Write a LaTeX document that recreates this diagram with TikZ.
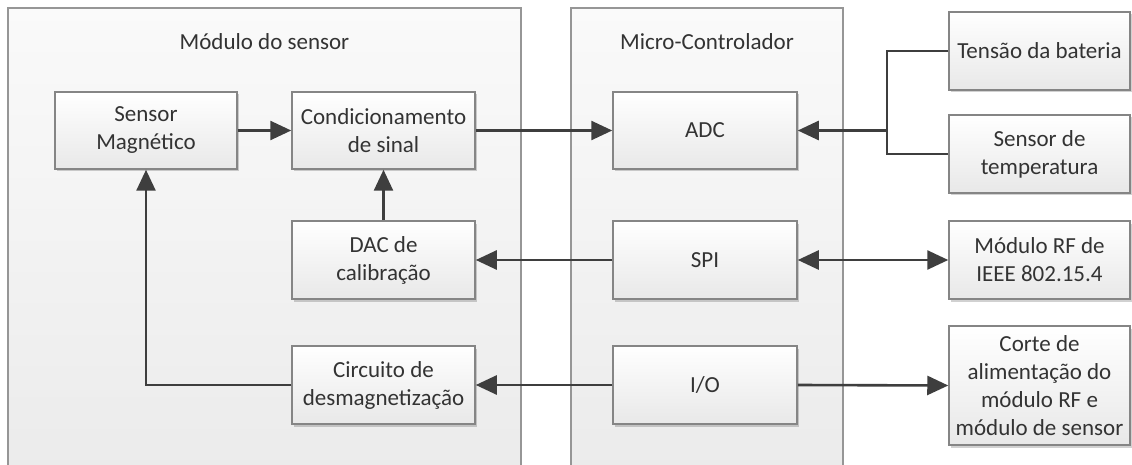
\documentclass[tikz,border=0pt]{standalone}
\usepackage{fontspec}
\setmainfont{Carlito}
\usetikzlibrary{arrows.meta,shadows}
\definecolor{ink}{HTML}{333333}
\definecolor{wire}{HTML}{3E3E3E}
\definecolor{boxline}{HTML}{858585}
\definecolor{frameline}{HTML}{969696}
\tikzset{
  label font/.style={font=\fontsize{23}{28}\selectfont, text=ink},
  block/.style={label font, draw=boxline, line width=1.5pt, inner sep=0pt,
    align=center, top color=white, bottom color=black!9,
    drop shadow={shadow xshift=2pt, shadow yshift=-2.5pt, fill=black, opacity=0.18}},
  frame/.style={draw=frameline, line width=1.5pt, inner sep=0pt,
    top color=black!2, bottom color=black!8},
  title/.style={label font},
  wireline/.style={draw=wire, line width=2.6pt},
  arrowto/.style={wireline, -{Triangle[length=21pt,width=19pt]}},
  arrowboth/.style={wireline, {Triangle[length=21pt,width=19pt]}-{Triangle[length=21pt,width=19pt]}},
}
\begin{document}
\begin{tikzpicture}[x=1pt,y=-1pt]
\useasboundingbox (0,0) rectangle (1132,465);
\fill[white] (0,0) rectangle (1132,465);
\begin{scope}
\clip (0,0) rectangle (1132,465);

% outer modules (they run past the lower edge)
\node[frame, minimum width=513pt, minimum height=480pt] (sensmod) at (264.5,248) {};
\node[frame, minimum width=272pt, minimum height=480pt] (mcu) at (707,248) {};
\node[title] (sensmodtitle) at (264.5,42) {Módulo do sensor};
\node[title] (mcutitle) at (707,42) {Micro-Controlador};

% sensor module blocks
\node[block, minimum width=182pt, minimum height=77pt] (magsens) at (146,130.5) {Sensor\\Magnético};
\node[block, minimum width=183pt, minimum height=77pt] (cond) at (383.5,130.5) {Condicionamento\\de sinal};
\node[block, minimum width=183pt, minimum height=78pt] (dac) at (383.5,260) {DAC de\\calibração};
\node[block, minimum width=183pt, minimum height=78pt] (demag) at (383.5,385) {Circuito de\\desmagnetização};

% micro-controller blocks
\node[block, minimum width=184pt, minimum height=77pt] (adc) at (705,130.5) {ADC};
\node[block, minimum width=184pt, minimum height=78pt] (spi) at (705,260) {SPI};
\node[block, minimum width=184pt, minimum height=78pt] (io) at (705,385) {I/O};

% external blocks
\node[block, minimum width=181pt, minimum height=78pt] (batt) at (1039.5,51) {Tensão da bateria};
\node[block, minimum width=181pt, minimum height=78pt] (temp) at (1039.5,154) {Sensor de\\temperatura};
\node[block, minimum width=181pt, minimum height=78pt] (rf) at (1039.5,260) {Módulo RF de\\IEEE 802.15.4};
\node[block, minimum width=181pt, minimum height=119pt] (cut) at (1039.5,385.5) {Corte de\\alimentação do\\módulo RF e\\módulo de sensor};

% connections
\coordinate (join) at (887,130.5);
\draw[arrowto] (magsens.east) -- (cond.west);
\draw[arrowto] (cond.east) -- (adc.west);
\draw[arrowto] (dac.north) -- (cond.south);
\draw[wireline] (batt.west) -| (join) |- (temp.west);
\draw[arrowto] (join) -- (adc.east);
\draw[arrowto] (spi.west) -- (dac.east);
\draw[arrowboth] (spi.east) -- (rf.west);
\draw[arrowto] (io.west) -- (demag.east);
\draw[arrowto] (io.east) -- (cut.west);
\draw[arrowto] (demag.west) -| (magsens.south);
\end{scope}
\end{tikzpicture}
\end{document}
